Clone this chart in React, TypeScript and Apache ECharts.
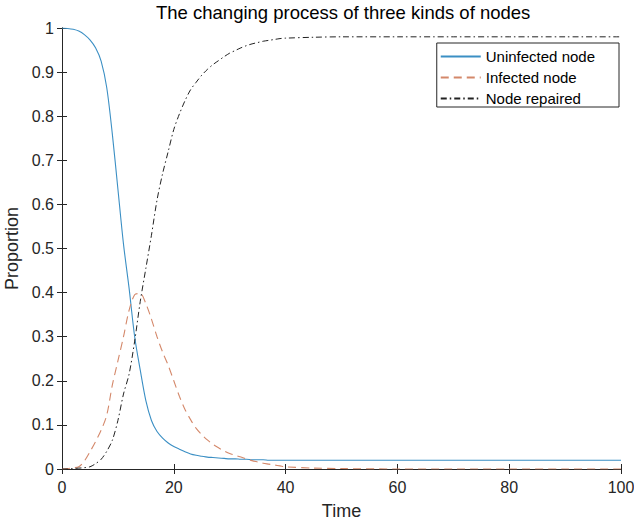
import React, { useEffect, useRef } from "react";
import * as echarts from "echarts";

const time = [
  0, 1, 2, 3, 4, 5, 6, 7, 8, 9, 10, 11, 12, 13, 14, 15, 16, 17, 18, 19, 20,
  21, 22, 23, 24, 25, 26, 27, 28, 29, 30, 31, 32, 33, 34, 35, 36, 37, 38, 39,
  40, 45, 50, 60, 70, 80, 90, 100,
];

const uninfected = [
  1.0, 0.999, 0.997, 0.993, 0.985, 0.973, 0.955, 0.925, 0.865, 0.76, 0.635,
  0.51, 0.41, 0.3, 0.224, 0.155, 0.11, 0.085, 0.07, 0.059, 0.051, 0.045, 0.039,
  0.034, 0.031, 0.029, 0.027, 0.026, 0.025, 0.024, 0.023, 0.023, 0.022, 0.022,
  0.021, 0.021, 0.021, 0.02, 0.02, 0.02, 0.02, 0.02, 0.02, 0.02, 0.02, 0.02,
  0.02, 0.02,
];

const infected = [
  0, 0.001, 0.003, 0.005, 0.018, 0.039, 0.062, 0.088, 0.122, 0.19, 0.245, 0.3,
  0.36, 0.395, 0.398, 0.375, 0.34, 0.3, 0.265, 0.235, 0.2, 0.165, 0.135, 0.112,
  0.092, 0.078, 0.066, 0.056, 0.048, 0.041, 0.035, 0.031, 0.027, 0.023, 0.019,
  0.016, 0.013, 0.011, 0.009, 0.007, 0.005, 0.002, 0.001, 0, 0, 0, 0, 0,
];

const repaired = [
  0, 0, 0.001, 0.002, 0.003, 0.005, 0.012, 0.022, 0.04, 0.065, 0.11, 0.17,
  0.215, 0.29, 0.38, 0.455, 0.53, 0.61, 0.67, 0.72, 0.77, 0.805, 0.835, 0.86,
  0.877, 0.893, 0.906, 0.917, 0.926, 0.935, 0.943, 0.949, 0.955, 0.96, 0.964,
  0.967, 0.97, 0.972, 0.974, 0.976, 0.977, 0.979, 0.98, 0.98, 0.98, 0.98, 0.98,
  0.98,
];

const seriesNames = ["Uninfected node", "Infected node", "Node repaired"];

const FONT = "'Liberation Sans', Arial, Helvetica, sans-serif";
const AXIS_COLOR = "#262626";

export default function App() {
  const ref = useRef<HTMLDivElement>(null);

  useEffect(() => {
    if (!ref.current) return;
    const chart = echarts.init(ref.current, null, { renderer: "svg" });
    const pair = (arr: number[]) => time.map((t, i) => [t, arr[i]]);

    const axisCommon = {
      min: 0,
      axisLine: { show: true, lineStyle: { color: AXIS_COLOR, width: 1 } },
      axisTick: {
        show: true,
        inside: true,
        length: 5,
        lineStyle: { color: AXIS_COLOR, width: 1 },
      },
      splitLine: { show: false },
    };

    chart.setOption({
      animation: false,
      backgroundColor: "#ffffff",
      textStyle: { fontFamily: FONT },
      title: {
        text: "The changing process of three kinds of nodes",
        left: 156,
        top: 3,
        padding: 0,
        textStyle: {
          fontFamily: FONT,
          fontSize: 18.5,
          fontWeight: "normal",
          color: "#000",
        },
      },
      legend: {
        orient: "vertical",
        right: 15,
        top: 43,
        data: seriesNames,
        backgroundColor: "#fff",
        borderColor: AXIS_COLOR,
        borderWidth: 1,
        borderRadius: 0,
        padding: [6, 24, 1, 3],
        itemGap: 6,
        itemWidth: 40,
        itemHeight: 14,
        align: "left",
        itemStyle: {
          color: "rgba(0,0,0,0)",
          borderColor: "rgba(0,0,0,0)",
          borderWidth: 0,
          opacity: 0,
        },
        textStyle: {
          fontFamily: FONT,
          fontSize: 15,
          lineHeight: 15,
          color: "#000",
        },
      },
      grid: {
        left: 62,
        right: 13,
        top: 28,
        bottom: 55,
        containLabel: false,
        outerBoundsMode: "none",
      },
      xAxis: [
        {
          ...axisCommon,
          type: "value",
          max: 100,
          interval: 20,
          position: "bottom",
          name: "Time",
          nameLocation: "middle",
          nameGap: 33,
          nameTextStyle: { fontFamily: FONT, fontSize: 18, color: AXIS_COLOR },
          axisLabel: {
            fontFamily: FONT,
            fontSize: 16,
            color: AXIS_COLOR,
            margin: 10,
          },
        },
        {
          ...axisCommon,
          type: "value",
          max: 100,
          interval: 20,
          position: "top",
          axisLabel: { show: false },
        },
      ],
      yAxis: [
        {
          ...axisCommon,
          type: "value",
          max: 1,
          interval: 0.1,
          position: "left",
          name: "Proportion",
          nameLocation: "middle",
          nameGap: 38,
          nameTextStyle: { fontFamily: FONT, fontSize: 18, color: AXIS_COLOR },
          axisLabel: {
            fontFamily: FONT,
            fontSize: 16,
            color: AXIS_COLOR,
            margin: 8,
          },
        },
        {
          ...axisCommon,
          type: "value",
          max: 1,
          interval: 0.1,
          position: "right",
          axisLabel: { show: false },
        },
      ],
      series: [
        {
          name: seriesNames[0],
          type: "line",
          data: pair(uninfected),
          smooth: 0.3,
          showSymbol: false,
          symbol: "none",
          lineStyle: { color: "#3b8fc4", width: 1.1, type: "solid" },
          itemStyle: { color: "#3b8fc4" },
        },
        {
          name: seriesNames[1],
          type: "line",
          data: pair(infected),
          smooth: 0.3,
          showSymbol: false,
          symbol: "none",
          lineStyle: { color: "#d4886a", width: 1.1, type: [8, 5] },
          itemStyle: { color: "#d4886a" },
        },
        {
          name: seriesNames[2],
          type: "line",
          data: pair(repaired),
          smooth: 0.3,
          showSymbol: false,
          symbol: "none",
          lineStyle: { color: "#222", width: 1, type: [6, 3, 1.5, 3] },
          itemStyle: { color: "#222" },
        },
      ],
    });

    return () => chart.dispose();
  }, []);

  return (
    <div
      ref={ref}
      style={{ position: "absolute", left: 0, top: 0, width: 634, height: 524 }}
    />
  );
}
